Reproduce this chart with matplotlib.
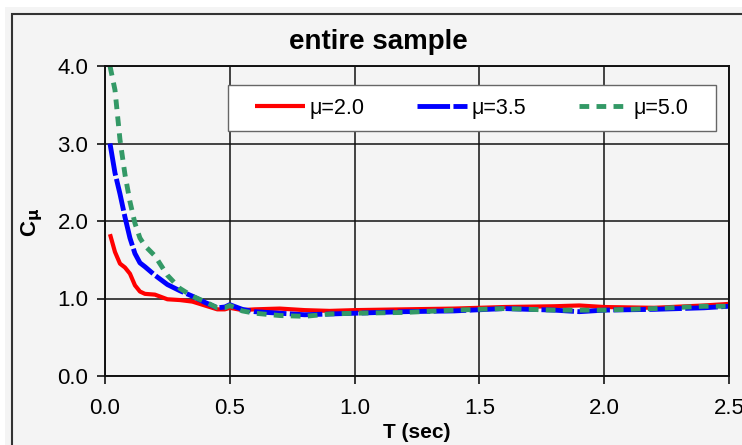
import matplotlib
matplotlib.use("Agg")
import matplotlib.pyplot as plt
from matplotlib.patches import Rectangle

plt.rcParams['font.family'] = ['Liberation Sans', 'DejaVu Sans']

# period T (sec) and C_mu for each ductility level
T = [0.02, 0.04, 0.06, 0.08, 0.10, 0.12, 0.14, 0.16, 0.20, 0.25, 0.30, 0.35,
     0.40, 0.45, 0.48, 0.50, 0.55, 0.60, 0.70, 0.80, 0.90, 1.00, 1.20, 1.40,
     1.60, 1.80, 1.90, 2.00, 2.20, 2.40, 2.50]
mu_20 = [1.83, 1.60, 1.45, 1.40, 1.32, 1.17, 1.09, 1.06, 1.05, 0.99, 0.98, 0.96,
         0.91, 0.86, 0.86, 0.88, 0.85, 0.86, 0.87, 0.85, 0.84, 0.85, 0.86, 0.87,
         0.89, 0.90, 0.91, 0.89, 0.88, 0.91, 0.93]
mu_35 = [3.00, 2.62, 2.35, 2.05, 1.78, 1.58, 1.46, 1.41, 1.30, 1.18, 1.10, 1.03,
         0.95, 0.88, 0.89, 0.92, 0.86, 0.83, 0.81, 0.79, 0.80, 0.81, 0.83, 0.84,
         0.87, 0.85, 0.83, 0.85, 0.86, 0.88, 0.90]
mu_50 = [4.00, 3.69, 3.05, 2.60, 2.25, 1.97, 1.78, 1.68, 1.55, 1.30, 1.13, 1.03,
         0.96, 0.88, 0.88, 0.91, 0.84, 0.81, 0.78, 0.77, 0.80, 0.81, 0.82, 0.85,
         0.87, 0.85, 0.85, 0.85, 0.87, 0.90, 0.90]
labels = ['\u03bc=2.0', '\u03bc=3.5', '\u03bc=5.0']

bg = '#f4f4f4'
fig = plt.figure(figsize=(7.42, 4.45), dpi=100, facecolor='white')
# chart area background and outer frame
fig.patches.append(Rectangle((5 / 742, 0), 1, 1 - 7 / 445, transform=fig.transFigure,
                             facecolor=bg, edgecolor='none', zorder=-2))
fig.patches.append(Rectangle((12 / 742, -0.1), 1.1, 1.1 - 14 / 445, transform=fig.transFigure,
                             facecolor='none', edgecolor='#333333', lw=1.5, zorder=-1))

ax = fig.add_axes([105 / 742, 1 - 376 / 445, 624 / 742, 310 / 445])
ax.set_zorder(5)
ax.set_facecolor(bg)

ax.plot(T, mu_20, color='#ff0000', lw=3, label=labels[0], solid_capstyle='butt')
ax.plot(T, mu_35, color='#0000ff', lw=3.5, dashes=(6.7, 0.7), label=labels[1])
ax.plot(T, mu_50, color='#339966', lw=3.5, dashes=(2.0, 1.5), label=labels[2])

ax.set_xlim(0, 2.5)
ax.set_ylim(0, 4)
ax.set_xticks([0, 0.5, 1.0, 1.5, 2.0, 2.5])
ax.set_yticks([0, 1, 2, 3, 4])
ax.set_xticklabels(['0.0', '0.5', '1.0', '1.5', '2.0', '2.5'])
ax.set_yticklabels(['0.0', '1.0', '2.0', '3.0', '4.0'])
ax.grid(True, color='#111111', lw=1.1)
ax.set_axisbelow(True)
for s in ax.spines.values():
    s.set_linewidth(1.4)
    s.set_color('#111111')
ax.tick_params(axis='both', labelsize=16, length=6, width=1.2, color='#111111')
ax.tick_params(axis='x', pad=10)
ax.tick_params(axis='y', pad=6)

# legend box drawn separately so the inner padding can match the reference
ax.add_patch(Rectangle((0.197, 0.790), 0.782, 0.149, transform=ax.transAxes,
                       facecolor='white', edgecolor='#666666', lw=1.0, zorder=4))
leg = ax.legend(loc='center', bbox_to_anchor=(0.588, 0.8645), ncol=3, borderpad=0,
                fontsize=15.5, frameon=False, handlelength=2.3, handletextpad=0.23,
                columnspacing=2.45, borderaxespad=0)
leg.set_zorder(6)

fig.text(378 / 742, 1 - 42 / 445, 'entire sample', ha='center', va='center',
         fontsize=20, fontweight='bold')
fig.text(417 / 742, 1 - 432 / 445, 'T (sec)', ha='center', va='center',
         fontsize=15, fontweight='bold')
fig.text(32 / 742, 1 - 222 / 445, r'C$_{\mathbf{\mu}}$', ha='center', va='center',
         fontsize=16, fontweight='bold', rotation=90)

fig.savefig('out.png', dpi=100, facecolor='white')
